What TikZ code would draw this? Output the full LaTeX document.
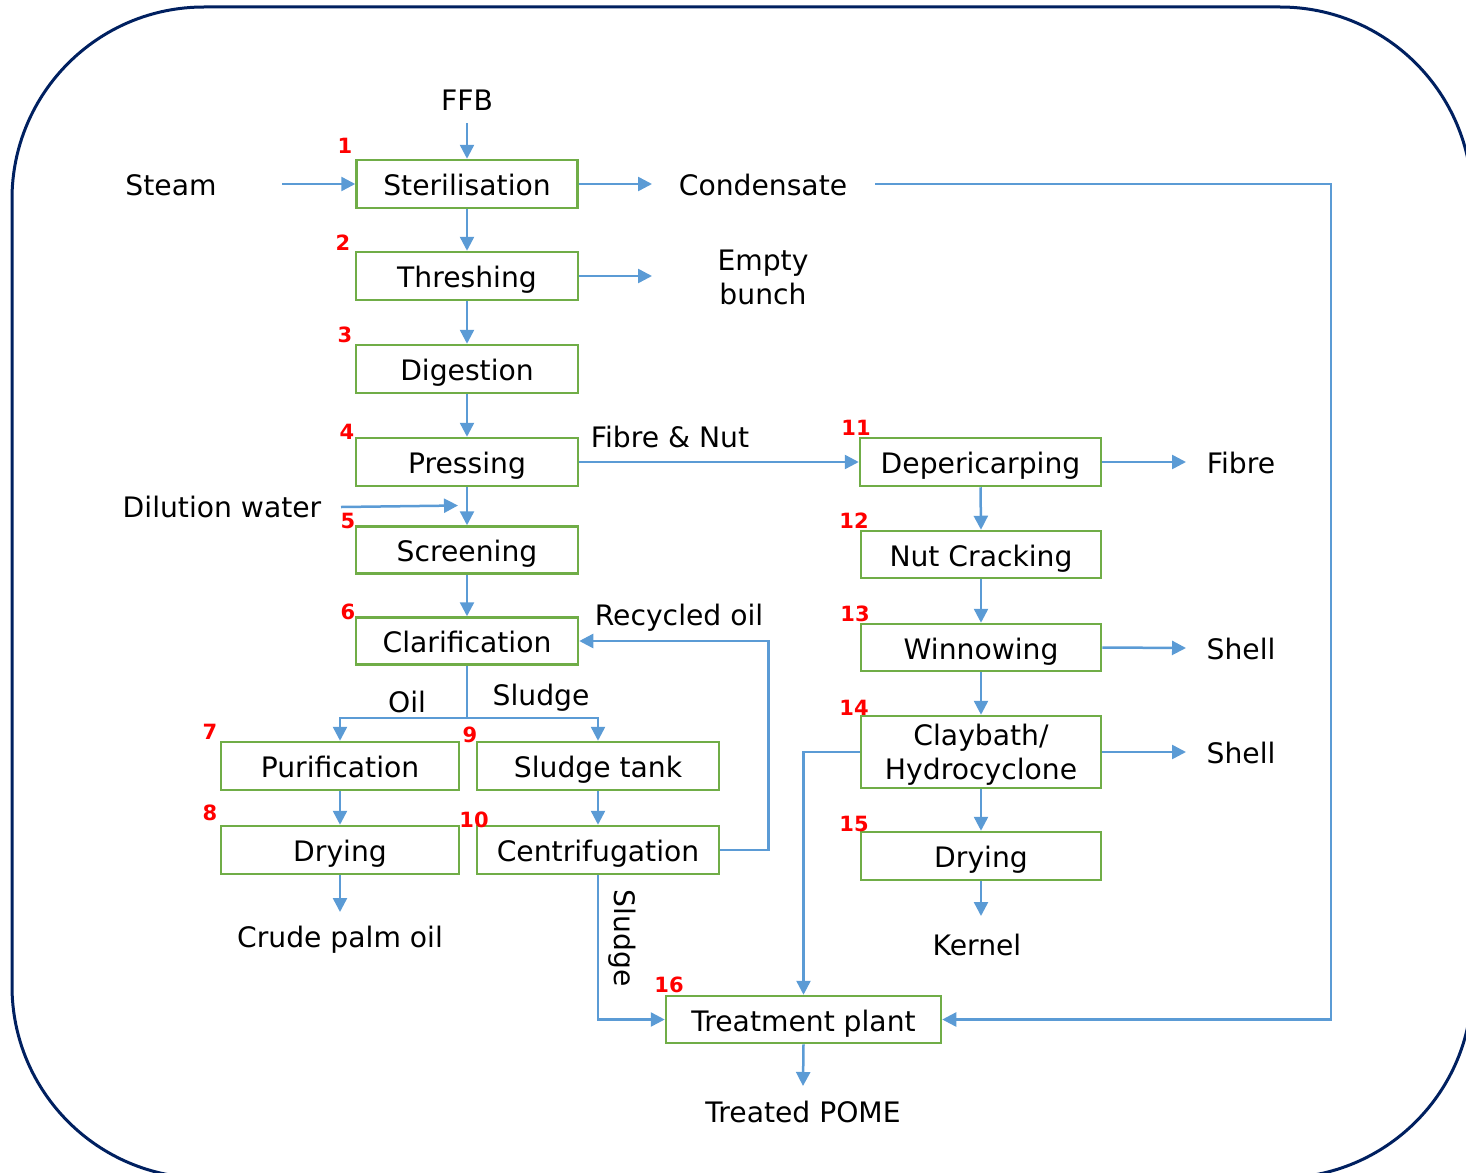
\documentclass[tikz,border=0pt]{standalone}
\usepackage{fontspec}
\setmainfont{DejaVu Sans}
\usetikzlibrary{arrows.meta}
\definecolor{boxgreen}{HTML}{70AD47}
\definecolor{flowblue}{HTML}{5B9BD5}
\definecolor{framenavy}{HTML}{002060}
\newcommand{\mainsz}{\fontsize{28.2}{34}\selectfont}
\newcommand{\numsz}{\fontsize{21}{24}\selectfont}
\begin{document}
\begin{tikzpicture}[x=1pt,y=-1pt,
  box/.style={draw=boxgreen, line width=2.5pt, minimum height=48pt, inner sep=0pt, font=\mainsz, text height=23pt, text depth=0pt},
  lbl/.style={font=\mainsz, inner sep=2pt, align=center},
  num/.style={text=red, font=\bfseries\numsz, inner sep=0pt},
  link/.style={draw=flowblue, line width=2.5pt},
  flow/.style={link, -{Triangle[length=14pt,width=14pt]}}]
\useasboundingbox (0,0) rectangle (1466,1172);
\begin{scope}
\clip (0,0) rectangle (1466,1172);
\draw[framenavy, line width=3pt, rounded corners=192pt] (12,7) rectangle (1472,1178);
\end{scope}
% boxes
\node[box, minimum width=221pt] (ster) at (467,184) {Sterilisation};
\node[box, minimum width=222pt] (thresh) at (467,276) {Threshing};
\node[box, minimum width=222pt] (dig) at (467,369) {Digestion};
\node[box, minimum width=222pt] (press) at (467,462) {Pressing};
\node[box, minimum width=222pt, minimum height=47pt] (screen) at (467,550) {Screening};
\node[box, minimum width=222pt, minimum height=47pt] (clar) at (467,641) {Clarification};
\node[box, minimum width=238pt] (purif) at (340,766) {Purification};
\node[box, minimum width=238pt] (dry8) at (340,850) {Drying};
\node[box, minimum width=242pt] (stank) at (598,766) {Sludge tank};
\node[box, minimum width=242pt] (cent) at (598,850) {Centrifugation};
\node[box, minimum width=241pt] (dep) at (980.5,462) {Depericarping};
\node[box, minimum width=240pt, minimum height=47pt] (crack) at (981,554.5) {Nut Cracking};
\node[box, minimum width=240pt, minimum height=47pt] (winn) at (981,647.5) {Winnowing};
\node[box, minimum width=240pt, minimum height=72pt, align=center, text height=, text depth=0pt] (clay) at (981,752) {Claybath/\\Hydrocyclone};
\node[box, minimum width=240pt] (dry15) at (981,856) {Drying};
\node[box, minimum width=275pt, minimum height=47pt] (treat) at (803.5,1019.5) {Treatment plant};
% numbers
\node[num] (n1) at (345,146) {1};
\node[num] (n2) at (343,243) {2};
\node[num] (n3) at (345,335) {3};
\node[num] (n4) at (347,432) {4};
\node[num] (n5) at (348,521) {5};
\node[num] (n6) at (348,612) {6};
\node[num] (n7) at (210,732) {7};
\node[num] (n8) at (210,813) {8};
\node[num] (n9) at (470,735) {9};
\node[num] (n10) at (474,820) {10};
\node[num] (n11) at (856,428) {11};
\node[num] (n12) at (854,521) {12};
\node[num] (n13) at (855,614) {13};
\node[num] (n14) at (854,708) {14};
\node[num] (n15) at (854,824) {15};
\node[num] (n16) at (669,985) {16};
% labels
\node[lbl] (ffb) at (467,100) {FFB};
\node[lbl] (steam) at (171,185) {Steam};
\node[lbl] (cond) at (763,185) {Condensate};
\node[lbl] (empty) at (763,277) {Empty\\bunch};
\node[lbl] (fnut) at (670,437) {Fibre \& Nut};
\node[lbl] (fibre) at (1241,463) {Fibre};
\node[lbl] (dil) at (222,507) {Dilution water};
\node[lbl] (recyc) at (679,618) {Recycled oil};
\node[lbl] (oil) at (407,702) {Oil};
\node[lbl] (sl1) at (541,698) {Sludge};
\node[lbl, rotate=-90] (sl2) at (622,938) {Sludge};
\node[lbl] (cpo) at (340,940) {Crude palm oil};
\node[lbl] (shell1) at (1241,649) {Shell};
\node[lbl] (shell2) at (1241,753) {Shell};
\node[lbl] (kernel) at (977,945) {Kernel};
\node[lbl] (pome) at (803,1112) {Treated POME};
% free ends
\coordinate (ffbout) at (467,123);
\coordinate (steamout) at (282,184);
\coordinate (condin) at (652,184);
\coordinate (condout) at (875,184);
\coordinate (emptyin) at (652,276);
\coordinate (fibrein) at (1186,462);
\coordinate (dilout) at (341,507);
\coordinate (dilin) at (458,505.5);
\coordinate (split) at (467,718);
\coordinate (shell1in) at (1186,648);
\coordinate (shell2in) at (1186,752);
\coordinate (kernelin) at (981,916);
\coordinate (cpoin) at (340,912);
\coordinate (pomein) at (803,1086);
% connectors
\draw[flow] (ffbout) -- (ster.north);
\draw[flow] (steamout) -- (ster.west);
\draw[flow] (ster.east) -- (condin);
\draw[flow] (condout) -- (1331,184) |- (treat.east);
\draw[flow] (ster.south) -- (thresh.north);
\draw[flow] (thresh.east) -- (emptyin);
\draw[flow] (thresh.south) -- (dig.north);
\draw[flow] (dig.south) -- (press.north);
\draw[flow] (press.east) -- (dep.west);
\draw[flow] (press.south) -- (screen.north);
\draw[flow] (dilout) -- (dilin);
\draw[flow] (screen.south) -- (clar.north);
\draw[link] (clar.south) -- (split);
\draw[flow] (split) -| (purif.north);
\draw[flow] (split) -| (stank.north);
\draw[flow] (purif.south) -- (dry8.north);
\draw[flow] (dry8.south) -- (cpoin);
\draw[flow] (stank.south) -- (cent.north);
\draw[flow] (cent.east) -- ++(48,0) |- (clar.east);
\draw[flow] (cent.south) |- (treat.west);
\draw[flow] (dep.east) -- (fibrein);
\draw[flow] (dep.south) -- (crack.north);
\draw[flow] (crack.south) -- (winn.north);
\draw[flow] (winn.east) -- (shell1in);
\draw[flow] (winn.south) -- (clay.north);
\draw[flow] (clay.east) -- (shell2in);
\draw[flow] (clay.south) -- (dry15.north);
\draw[flow] (dry15.south) -- (kernelin);
\draw[flow] (clay.west) -| (treat.north);
\draw[flow] (treat.south) -- (pomein);
\end{tikzpicture}
\end{document}
